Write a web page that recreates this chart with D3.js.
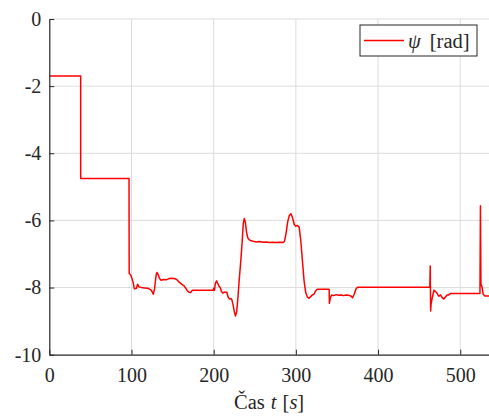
<!DOCTYPE html>
<html><head><meta charset="utf-8">
<script src="https://cdn.jsdelivr.net/npm/d3@7"></script>
<style>body{margin:0;background:#fff}svg{display:block}text{font-family:"Liberation Serif","Times New Roman",serif;fill:#262626}</style>
</head><body><svg id="c" width="489" height="419"></svg>
<script>
const time = [0,38.2,38.2,97,97.2,99,100.5,102,103.5,106,107.5,109,112,116,120,123,125,126.5,128,130,131,132.5,134,136,139,142,145,148,152,155,158,161,164,166,168,170,172,174,180,186,192,199.5,200,201,202,203.5,205,206.5,208,209.5,211,213,216,217.5,219,221,222,223.5,225,226.5,228,229.5,231,233,234.5,236,237.2,238.5,240,241.5,243,245,248,252,256,260,264,268,272,276,280,284,286,288,290,292,294,296,298,300,302,304,306,308,310,312,314,316,318,320,322,324,326,340.5,340.8,342,343.5,346,349,352,355,358,361,364,367,369,371,373,375,463,463.5,464,464.5,466,468,470,472,474,476,478,480,482,484,486,488,524,524.6,525.2,526.5,528,530,535];
const psi = [-1.70,-1.70,-4.75,-4.75,-7.58,-7.62,-7.72,-7.85,-8.04,-8.02,-7.90,-7.98,-8.00,-8.01,-8.02,-8.06,-8.12,-8.20,-8.05,-7.62,-7.55,-7.62,-7.72,-7.78,-7.76,-7.77,-7.74,-7.72,-7.73,-7.76,-7.84,-7.90,-7.95,-8.02,-8.10,-8.14,-8.15,-8.08,-8.08,-8.08,-8.08,-8.08,-8.02,-8.08,-7.88,-7.80,-7.88,-7.96,-8.00,-8.12,-8.16,-8.14,-8.14,-8.28,-8.34,-8.33,-8.35,-8.50,-8.70,-8.85,-8.72,-8.30,-7.80,-7.20,-6.70,-6.10,-5.94,-6.05,-6.35,-6.52,-6.57,-6.60,-6.62,-6.64,-6.63,-6.65,-6.64,-6.66,-6.65,-6.66,-6.65,-6.66,-6.63,-6.40,-6.05,-5.85,-5.80,-5.92,-6.12,-6.17,-6.15,-6.20,-6.60,-7.20,-7.80,-8.15,-8.28,-8.32,-8.27,-8.22,-8.20,-8.10,-8.05,-8.05,-8.47,-8.30,-8.22,-8.24,-8.21,-8.23,-8.22,-8.24,-8.22,-8.23,-8.25,-8.30,-8.20,-8.05,-7.99,-7.99,-7.36,-8.70,-8.50,-8.30,-8.08,-8.12,-8.18,-8.26,-8.22,-8.30,-8.34,-8.28,-8.22,-8.22,-8.18,-8.18,-5.56,-7.90,-7.98,-8.20,-8.25,-8.25];
const xTicks = [0,100,200,300,400,500];
const yTicks = [0,-2,-4,-6,-8,-10];
const legendLabel = "ψ";

const svg = d3.select("#c");
const FONT = '"Liberation Serif","Times New Roman",serif';
const L=49.3, R=489, T=19, B=354.7;
const x = d3.scaleLinear().domain([0,535]).range([L,R]);
const y = d3.scaleLinear().domain([-10,0]).range([B,T]);

const g = svg.append("g");
g.selectAll(".gx").data(xTicks.slice(1)).join("line")
 .attr("x1",d=>x(d)).attr("x2",d=>x(d)).attr("y1",T).attr("y2",B)
 .attr("stroke","#dcdcdc").attr("stroke-width",1);
g.selectAll(".gy").data(yTicks.slice(0,-1)).join("line")
 .attr("x1",L).attr("x2",R).attr("y1",d=>y(d)).attr("y2",d=>y(d))
 .attr("stroke","#dcdcdc").attr("stroke-width",1);

const line = d3.line().x((d,i)=>x(time[i])).y((d,i)=>y(psi[i]));
svg.append("path").datum(psi).attr("d",line).attr("fill","none")
 .attr("stroke","#ff0000").attr("stroke-width",1.5).attr("stroke-linejoin","round");

const xa = svg.append("g").attr("transform",`translate(0,${B})`)
 .call(d3.axisBottom(x).tickValues(xTicks).tickSizeInner(-5).tickSizeOuter(0).tickPadding(13));
const ya = svg.append("g").attr("transform",`translate(${L},0)`)
 .call(d3.axisLeft(y).tickValues(yTicks).tickSizeInner(-5).tickSizeOuter(0).tickPadding(8).tickFormat(d=>String(d)));
[xa,ya].forEach(a=>{
  a.attr("font-family",null).style("font-family",FONT);
  a.select(".domain").attr("stroke","#262626").attr("stroke-width",1.2);
  a.selectAll(".tick line").attr("stroke","#262626");
  a.selectAll("text").attr("font-size",20).attr("fill","#262626").style("font-family",FONT);
});

const xl = svg.append("text").attr("x",(L+R)/2).attr("y",409).attr("text-anchor","middle").attr("font-size",20.5).style("font-family",FONT);
xl.append("tspan").text("Čas");
xl.append("tspan").attr("dx",6).attr("font-style","italic").text("t");
xl.append("tspan").attr("dx",6).text("[");
xl.append("tspan").attr("font-style","italic").text("s");
xl.append("tspan").text("]");

const lg = svg.append("g");
lg.append("rect").attr("x",360).attr("y",25).attr("width",117).attr("height",31)
 .attr("fill","#fff").attr("stroke","#262626").attr("stroke-width",1);
lg.append("line").attr("x1",364).attr("x2",404).attr("y1",40.5).attr("y2",40.5)
 .attr("stroke","#ff0000").attr("stroke-width",1.5);
const lt = lg.append("text").attr("x",408).attr("y",47.5).attr("font-size",20.5).style("font-family",FONT);
lt.append("tspan").attr("font-style","italic").text(legendLabel);
lt.append("tspan").attr("dx",9).text("[rad]");
</script></body></html>
